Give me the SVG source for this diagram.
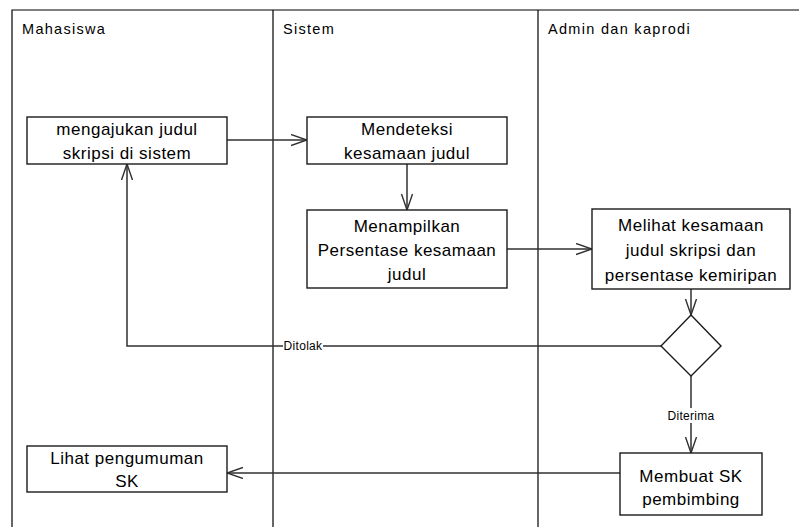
<svg xmlns="http://www.w3.org/2000/svg" width="799" height="527" viewBox="0 0 799 527">
<style>
.lane{stroke:#000;stroke-width:1.2;fill:none}
.lt{font-family:"Liberation Sans",Arial,sans-serif;font-size:14.5px;letter-spacing:1.3px;fill:#000}
.box{fill:#fff;stroke:#1a1a1a;stroke-width:1.4}
.nt{font-family:"Liberation Sans",Arial,sans-serif;font-size:17px;letter-spacing:0.5px;fill:#000;text-anchor:middle}
.c{stroke:#303030;stroke-width:1.5;fill:none}
.cl{font-family:"Liberation Sans",Arial,sans-serif;font-size:12px;letter-spacing:0.3px;fill:#000;text-anchor:middle}
</style>
<defs>
<marker id="arr" markerWidth="18" markerHeight="14" refX="16" refY="6" orient="auto" markerUnits="userSpaceOnUse">
<path d="M0,0.5 L16,6 L0,11.5" fill="none" stroke="#303030" stroke-width="1.4"/>
</marker>
</defs>
<rect width="799" height="527" fill="#fff"/>
<g id="lanes">
<path class="lane" d="M12,527 V10 H799"/>
<path class="lane" d="M273,10 V527"/>
<path class="lane" d="M538,10 V527"/>
<text class="lt" x="22" y="34">Mahasiswa</text>
<text class="lt" x="283" y="34">Sistem</text>
<text class="lt" x="548" y="34">Admin dan kaprodi</text>
</g>
<g id="connectors">
<path class="c" d="M227,140 H307" marker-end="url(#arr)"/>
<path class="c" d="M407,164 V210" marker-end="url(#arr)"/>
<path class="c" d="M507,249 H592" marker-end="url(#arr)"/>
<path class="c" d="M691,289 V315" marker-end="url(#arr)"/>
<path class="c" d="M661,346 H127 V164" marker-end="url(#arr)"/>
<path class="c" d="M691,376 V453" marker-end="url(#arr)"/>
<path class="c" d="M620,473 H227" marker-end="url(#arr)"/>
<rect x="283" y="339" width="40" height="14" fill="#fff"/>
<text class="cl" x="303" y="350">Ditolak</text>
<rect x="666" y="408" width="50" height="15" fill="#fff"/>
<text class="cl" x="691" y="420">Diterima</text>
</g>
<g id="n1">
<rect class="box" x="27" y="117" width="200" height="47"/>
<text class="nt" x="127" y="135">mengajukan judul</text>
<text class="nt" x="127" y="159">skripsi di sistem</text>
</g>
<g id="n2">
<rect class="box" x="307" y="117" width="200" height="47"/>
<text class="nt" x="407" y="135">Mendeteksi</text>
<text class="nt" x="407" y="159">kesamaan judul</text>
</g>
<g id="n3">
<rect class="box" x="307" y="210" width="200" height="78"/>
<text class="nt" x="407" y="232">Menampilkan</text>
<text class="nt" x="407" y="256">Persentase kesamaan</text>
<text class="nt" x="407" y="280">judul</text>
</g>
<g id="n4">
<rect class="box" x="592" y="209" width="198" height="80"/>
<text class="nt" x="691" y="231">Melihat kesamaan</text>
<text class="nt" x="691" y="256">judul skripsi dan</text>
<text class="nt" x="691" y="281">persentase kemiripan</text>
</g>
<g id="decision">
<path class="box" d="M691,315 L721,346 L691,376 L661,346 Z"/>
</g>
<g id="n5">
<rect class="box" x="620" y="453" width="142" height="62"/>
<text class="nt" x="691" y="482">Membuat SK</text>
<text class="nt" x="691" y="505">pembimbing</text>
</g>
<g id="n6">
<rect class="box" x="27" y="446" width="200" height="46"/>
<text class="nt" x="127" y="464">Lihat pengumuman</text>
<text class="nt" x="127" y="487">SK</text>
</g>
</svg>
